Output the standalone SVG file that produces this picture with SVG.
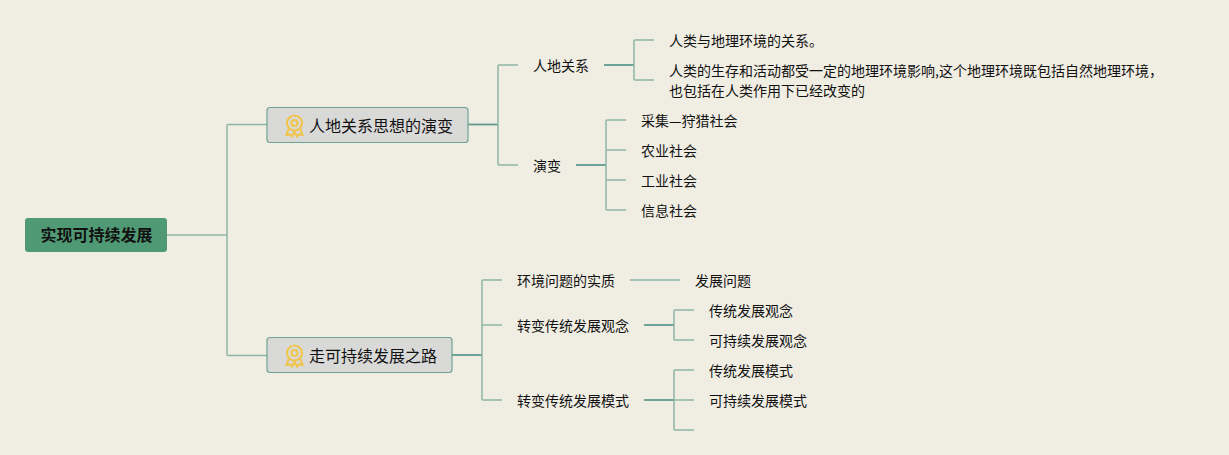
<svg xmlns="http://www.w3.org/2000/svg" width="1229" height="455" viewBox="0 0 1229 455">
<style>
text{font-family:"Noto Sans CJK SC","Liberation Sans",sans-serif;fill:#111}
.l{font-size:14px}
.t{font-size:16px}
.r{font-size:16px;font-weight:700}
.c{fill:none;stroke:#8db5a8;stroke-width:1.5}
.d{fill:none;stroke:#5f9c8f;stroke-width:1.8}
.box{fill:#d9d9d8;stroke:#6fa394;stroke-width:1.2}
</style>
<defs>
<g id="medal" fill="none" stroke="#f0c54e" stroke-width="2.200">
<circle cx="0" cy="-3" r="7.500"/>
<circle cx="0" cy="-3" r="3"/>
<path d="M-6 3L-8 9L-4.500 8.500L-2.500 10.500L0 6L2.500 10.500L4.500 8.500L8 9L6 3"/>
</g>
</defs>
<rect width="1229" height="455" fill="#f0ede3"/>
<g id="connectors">
<path class="c" d="M167 235H227M227 235V125.500Q227 124.500 228 124.500H267M227 235V354.500Q227 355.500 228 355.500H267"/>
<path class="d" d="M468 124.500H498"/>
<path class="c" d="M498 124.500V66Q498 65 499 65H518M498 124.500V164Q498 165 499 165H518"/>
<path class="d" d="M604 65H634"/>
<path class="c" d="M634 65V41Q634 40 635 40H654M634 65V79Q634 80 635 80H654"/>
<path class="d" d="M576 165H606"/>
<path class="c" d="M606 165V121Q606 120 607 120H626M606 150H626M606 180H626M606 165V209Q606 210 607 210H626"/>
<path class="d" d="M452 355H482"/>
<path class="c" d="M482 355V281Q482 280 483 280H502M482 325H502M482 355V399Q482 400 483 400H502"/>
<path class="c" d="M630 280H680"/>
<path class="d" d="M644 325H674"/>
<path class="c" d="M674 325V311Q674 310 675 310H694M674 325V339Q674 340 675 340H694"/>
<path class="d" d="M644 400H674"/>
<path class="c" d="M674 400V371Q674 370 675 370H694M674 400H694M674 400V429Q674 430 675 430H694"/>
</g>
<g id="root"><rect x="25" y="218" width="142" height="34" rx="3" fill="#4f9a74"/><text class="r" x="96.500" y="241" text-anchor="middle">实现可持续发展</text></g>
<g id="n1"><rect class="box" x="267" y="107.500" width="201" height="35" rx="3"/><use href="#medal" x="294.500" y="126"/><text class="t" x="309" y="131.500">人地关系思想的演变</text></g>
<g id="n2"><rect class="box" x="267" y="337.500" width="185" height="35" rx="3"/><use href="#medal" x="294.500" y="356"/><text class="t" x="309" y="361.500">走可持续发展之路</text></g>
<g id="n11"><text class="l" x="533" y="71">人地关系</text></g>
<g id="n12"><text class="l" x="533" y="171">演变</text></g>
<g id="n111"><text class="l" x="669" y="46">人类与地理环境的关系。</text></g>
<g id="n112"><text class="l" x="669" y="76">人类的生存和活动都受一定的地理环境影响,这个地理环境既包括自然地理环境，</text><text class="l" x="669" y="96">也包括在人类作用下已经改变的</text></g>
<g id="n121"><text class="l" x="641" y="126">采集—狩猎社会</text></g>
<g id="n122"><text class="l" x="641" y="156">农业社会</text></g>
<g id="n123"><text class="l" x="641" y="186">工业社会</text></g>
<g id="n124"><text class="l" x="641" y="216">信息社会</text></g>
<g id="n21"><text class="l" x="517" y="286">环境问题的实质</text></g>
<g id="n22"><text class="l" x="517" y="331">转变传统发展观念</text></g>
<g id="n23"><text class="l" x="517" y="406">转变传统发展模式</text></g>
<g id="n211"><text class="l" x="695" y="286">发展问题</text></g>
<g id="n221"><text class="l" x="709" y="316">传统发展观念</text></g>
<g id="n222"><text class="l" x="709" y="346">可持续发展观念</text></g>
<g id="n231"><text class="l" x="709" y="376">传统发展模式</text></g>
<g id="n232"><text class="l" x="709" y="406">可持续发展模式</text></g>
</svg>
